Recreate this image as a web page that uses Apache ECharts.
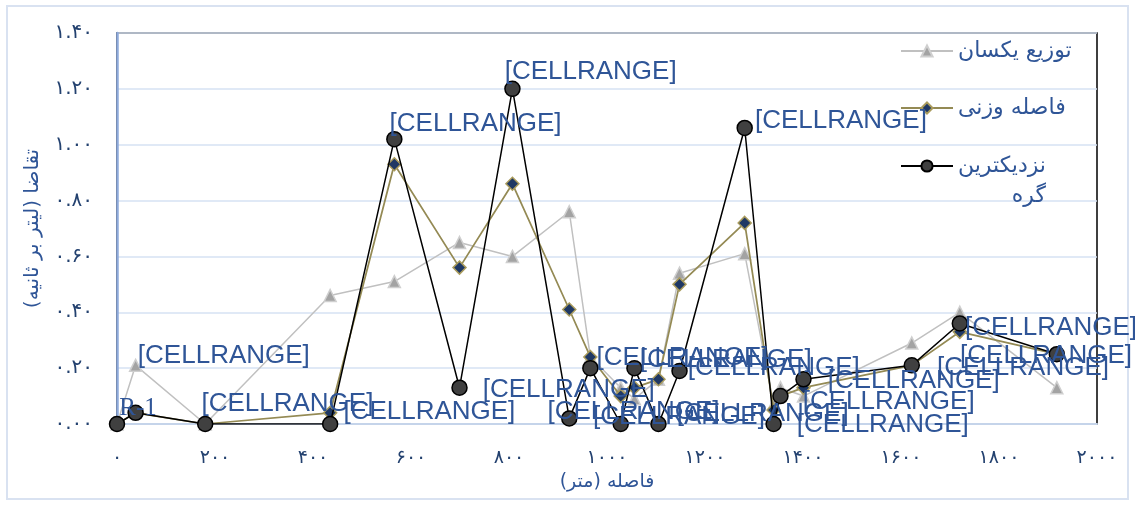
<!DOCTYPE html>
<html>
<head>
<meta charset="utf-8">
<script src="https://cdn.jsdelivr.net/npm/echarts@6/dist/echarts.min.js"></script>
<style>
html,body{margin:0;padding:0;background:#fff;}
#container{width:1135px;height:505px;}
</style>
</head>
<body>
<div id="container"></div>
<script>
// فاصله گره ها (متر)
const distance = [0, 38, 180, 435, 566, 699, 807, 923, 966, 1028, 1056, 1105, 1148, 1281, 1340, 1354, 1401, 1622, 1720, 1918]
// تقاضا برای هر روش
const uniformDemand = [0, 0.21, 0, 0.46, 0.51, 0.65, 0.60, 0.76, 0.24, 0.13, 0.09, 0.16, 0.54, 0.61, 0.07, 0.13, 0.10, 0.29, 0.40, 0.13]
const weightedDemand = [0, 0.04, 0, 0.04, 0.93, 0.56, 0.86, 0.41, 0.24, 0.10, 0.13, 0.16, 0.50, 0.72, 0.05, 0.10, 0.13, 0.21, 0.33, 0.25]
const nearestDemand = [0, 0.04, 0, 0, 1.02, 0.13, 1.20, 0.02, 0.20, 0, 0.20, 0, 0.19, 1.06, 0, 0.10, 0.16, 0.21, 0.36, 0.25]
const pointLabels = ['R-1', '[CELLRANGE]', '[CELLRANGE]', '[CELLRANGE]', '[CELLRANGE]', '[CELLRANGE]', '[CELLRANGE]',
  '[CELLRANGE]', '[CELLRANGE]', '[CELLRANGE]', '[CELLRANGE]', '[CELLRANGE]', '[CELLRANGE]', '[CELLRANGE]',
  '[CELLRANGE]', '[CELLRANGE]', '[CELLRANGE]', '[CELLRANGE]', '[CELLRANGE]', '[CELLRANGE]']
const seriesNames = ['توزیع یکسان', 'فاصله وزنی', 'نزدیکترین گره']
const xAxisTitle = '\u200Fفاصله (متر)\u200F'
const yAxisTitle = '\u200Fتقاضا (لیتر بر ثانیه)\u200F'

// جای برچسب نسبت به نقطه: [فاصله لبه چپ, فاصله مرکز عمودی] (فقط چیدمان)
const labelShift = [[3, -15], [3, -56], [-3, -19], [14, -11], [-4, -15], [24, 3], [-7, -16], [-21, -6],
  [7, -10], [-27, -6], [6, -8], [19, -9], [9, -2], [11, -6], [24, 2], [23, 7], [25, 2], [26, 3], [6, 5], [-96, 2]]

const faDigits = '۰۱۲۳۴۵۶۷۸۹'
function toFa(s) {
  return String(s).replace(/[0-9]/g, d => faDigits[+d])
}

const navy = '#2f5597'
const tickColor = '#23416f'
const circleSize = 15

const nearestData = distance.map((d, i) => ({
  value: [d, nearestDemand[i]],
  label: {
    formatter: pointLabels[i],
    position: [labelShift[i][0] + circleSize / 2, labelShift[i][1] + circleSize / 2],
    align: 'left',
    verticalAlign: 'middle',
    fontFamily: i === 0 ? 'Liberation Serif' : 'Liberation Sans',
    fontSize: i === 0 ? 25 : 26
  }
}))

const legendBase = {
  orient: 'vertical',
  left: 900,
  padding: 0,
  itemWidth: 52,
  itemHeight: 14,
  itemGap: 0,
  selectedMode: false,
  textStyle: {fontFamily: 'DejaVu Sans', fontSize: 22, color: navy, lineHeight: 26}
}

const option = {
  animation: false,
  backgroundColor: '#fff',
  graphic: [{
    type: 'rect',
    shape: {x: 7, y: 6, width: 1121, height: 493},
    style: {fill: 'none', stroke: '#d9e2f1', lineWidth: 2},
    silent: true
  }],
  grid: {
    left: 117, right: 38, top: 33, bottom: 81,
    show: true, borderColor: '#000', borderWidth: 1.5, backgroundColor: 'transparent'
  },
  legend: [
    Object.assign({}, legendBase, {top: 38, data: [seriesNames[0]]}),
    Object.assign({}, legendBase, {top: 95, data: [seriesNames[1]]}),
    Object.assign({}, legendBase, {
      top: 121, data: [seriesNames[2]],
      formatter: () => '{r|نزدیکترین}\n{r|گره}',
      textStyle: {
        fontFamily: 'DejaVu Sans', fontSize: 22, color: navy, lineHeight: 30, padding: [30, 0, 0, 0],
        rich: {r: {fontFamily: 'DejaVu Sans', fontSize: 22, color: navy, lineHeight: 30, align: 'right'}}
      }
    })
  ],
  xAxis: {
    type: 'value', min: 0, max: 2000, interval: 200,
    name: xAxisTitle, nameLocation: 'middle', nameGap: 46,
    nameTextStyle: {fontFamily: 'DejaVu Sans', fontSize: 19, color: navy},
    axisLine: {show: true, onZero: false, lineStyle: {color: '#c5d4ea', width: 2}},
    axisTick: {show: false},
    splitLine: {show: false},
    axisLabel: {margin: 25, fontFamily: 'DejaVu Sans', fontSize: 19, color: tickColor, formatter: v => toFa(v)}
  },
  yAxis: {
    type: 'value', min: 0, max: 1.4, interval: 0.2,
    name: yAxisTitle, nameLocation: 'middle', nameGap: 74, nameRotate: 90,
    nameTextStyle: {fontFamily: 'DejaVu Sans', fontSize: 20, color: navy},
    axisLine: {show: true, lineStyle: {color: '#8eaadb', width: 2.5}},
    axisTick: {show: false},
    splitLine: {lineStyle: {color: '#d6e2f3', width: 1.5}},
    axisLabel: {margin: 24, fontFamily: 'DejaVu Sans', fontSize: 20, color: tickColor, formatter: v => toFa(v.toFixed(2))}
  },
  series: [
    {
      name: seriesNames[0], type: 'line',
      data: distance.map((d, i) => [d, uniformDemand[i]]),
      symbol: 'triangle', symbolSize: 12,
      lineStyle: {color: '#c0c0c0', width: 1.5},
      itemStyle: {color: '#a3a3a3', borderColor: '#cfcfcf', borderWidth: 1.5},
      emphasis: {disabled: true}, z: 2
    },
    {
      name: seriesNames[1], type: 'line',
      data: distance.map((d, i) => [d, weightedDemand[i]]),
      symbol: 'diamond', symbolSize: 13,
      lineStyle: {color: '#948a54', width: 1.75},
      itemStyle: {color: '#1f3864', borderColor: '#a99b5c', borderWidth: 1.5},
      emphasis: {disabled: true}, z: 3
    },
    {
      name: seriesNames[2], type: 'line',
      data: nearestData,
      symbol: 'circle', symbolSize: circleSize,
      lineStyle: {color: '#000', width: 1.5},
      itemStyle: {color: '#404040', borderColor: '#000', borderWidth: 1.5},
      label: {show: true, color: navy},
      labelLayout: {hideOverlap: false},
      emphasis: {disabled: true}, z: 4
    }
  ]
}

const myChart = echarts.init(document.getElementById('container'))
myChart.setOption(option)
</script>
</body>
</html>
